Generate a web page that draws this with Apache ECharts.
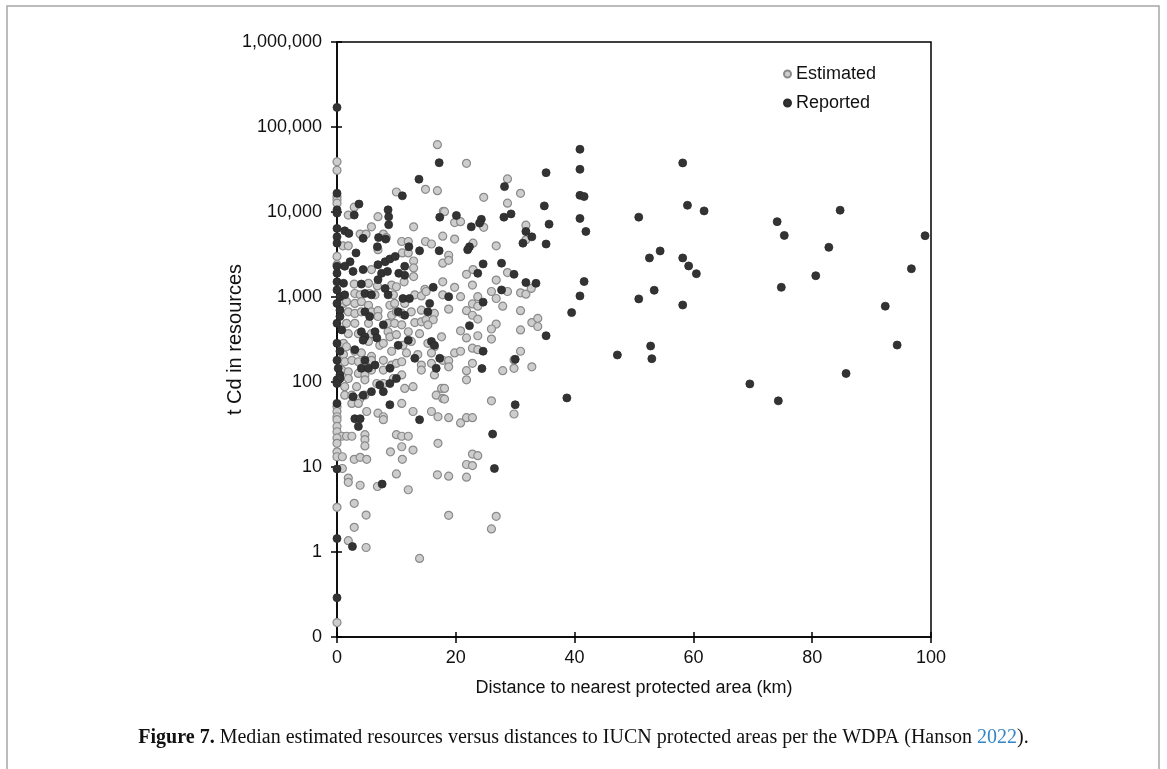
<!DOCTYPE html>
<html>
<head>
<meta charset="utf-8">
<script src="https://cdn.jsdelivr.net/npm/echarts@6/dist/echarts.min.js"></script>
<style>
  html, body { margin: 0; padding: 0; background: #fff; }
  #chart { width: 1167px; height: 769px; }
</style>
</head>
<body>
<div id="chart"></div>
<script>
// distance to nearest protected area (km), t Cd in resources
const estimated = [
  [16.9, 62000], [0, 39000], [0, 31000], [10.0, 17200], [14.9, 18500], [16.9, 17800], [0, 15200], [0, 13900],
  [0, 12700], [2.9, 11400], [1.9, 9200], [6.9, 8800], [17.9, 10200], [5.8, 6700], [12.9, 6700], [3.9, 5500],
  [4.9, 5500], [17.8, 5200], [7.8, 5500], [8.3, 5000], [1.0, 4000], [1.9, 4000], [6.9, 3600], [10.9, 4500],
  [12.0, 4500], [14.9, 4500], [15.9, 4200], [11.0, 3300], [12.0, 3300], [0, 3000], [17.8, 2500], [12.9, 2650],
  [0, 2400], [5.8, 2100], [12.9, 2200], [12.9, 1740],
  [2.9, 1420], [5.3, 1450], [6.8, 1350], [9.2, 1380], [10.0, 1320], [11.3, 1510], [14.8, 1230], [17.8, 1510],
  [3.0, 1100], [3.9, 1060], [5.5, 1100], [6.4, 1060], [9.5, 1060], [13.1, 1060], [14.2, 1030], [17.8, 1060],
  [1.1, 840], [1.6, 880], [3.0, 840], [4.1, 880], [5.3, 800], [8.9, 800], [9.7, 840], [11.4, 840], [15.0, 1160],
  [1.9, 670], [3.0, 640], [4.1, 670], [5.8, 670], [6.9, 690], [6.9, 590], [9.2, 610], [10.0, 670], [10.9, 640],
  [12.5, 670], [14.2, 700], [16.4, 640],
  [1.6, 490], [3.0, 490], [5.3, 490], [8.6, 490], [9.7, 490], [10.9, 470], [13.1, 500], [14.2, 510], [15.0, 540],
  [16.2, 540], [15.3, 470],
  [1.9, 370], [3.6, 370], [5.8, 370], [8.6, 390], [8.9, 340], [10.0, 360], [12.0, 390], [13.9, 370], [17.6, 340],
  [1.1, 285], [1.6, 260], [5.3, 300], [7.2, 270], [7.8, 285], [11.1, 270], [12.5, 300], [15.3, 285], [16.4, 260],
  [1.1, 210], [3.0, 230], [4.1, 220], [5.8, 200], [9.2, 230], [11.7, 220], [13.6, 210], [15.9, 220],
  [1.3, 173], [2.5, 180], [3.6, 173], [4.7, 166], [5.8, 180], [7.8, 180], [9.2, 158], [10.0, 166], [10.9, 173],
  [14.2, 158], [15.9, 166], [17.8, 180],
  [0.8, 138], [1.9, 132], [3.6, 126], [4.7, 121], [5.8, 138], [7.8, 138], [10.9, 121], [14.2, 138], [16.4, 121],
  [1.9, 110], [3.3, 88], [4.7, 106], [6.7, 96], [7.8, 96], [9.5, 110], [11.4, 84], [12.8, 88], [17.6, 84], [1.3, 88],
  [1.3, 70], [2.5, 70], [3.9, 64], [4.7, 70], [10.9, 56], [16.7, 70], [17.8, 64], [2.5, 56], [3.6, 56],
  [0, 51], [0, 45], [0, 39], [5.0, 45], [6.9, 43], [7.8, 39], [7.8, 36], [12.8, 45], [15.9, 45], [17.0, 39],
  [0, 36], [0, 30], [0, 26], [0.8, 23], [1.6, 23], [2.5, 23], [4.7, 24], [4.7, 21], [10.0, 24], [10.9, 23],
  [12.0, 23], [0, 22], [0, 19], [4.7, 17.7], [10.9, 17.3], [17.0, 19],
  [0, 15.1], [0, 13.2], [0.9, 13.2], [2.9, 12.3], [3.9, 13.0], [5.0, 12.3], [9.0, 15.1], [11.0, 12.3], [12.8, 15.8],
  [0.9, 9.6], [1.9, 7.4], [1.9, 6.6], [3.9, 6.1], [6.8, 5.9], [10.0, 8.3], [12.0, 5.4], [16.9, 8.1], [0, 3.35],
  [2.9, 3.74], [4.9, 2.72], [2.9, 1.95], [1.9, 1.36], [4.9, 1.13], [13.9, 0.84], [0, 0.148],
  [21.8, 37400], [28.7, 24500], [24.7, 14900], [30.9, 16600], [28.7, 12700], [31.8, 7000], [18.1, 10100],
  [19.8, 7500], [20.8, 7700], [24.7, 6600], [19.8, 4800], [22.9, 4300], [26.8, 4000], [31.8, 4700], [18.8, 3100],
  [18.8, 2700], [22.9, 2100], [21.8, 1850], [28.7, 1940],
  [19.8, 1300], [22.8, 1380], [26.8, 1580], [26.0, 1160], [28.7, 1160], [30.9, 1120], [31.8, 1080], [32.7, 1260],
  [20.8, 1010], [23.7, 1010], [26.8, 960], [27.9, 780], [18.8, 720], [21.8, 690], [22.8, 830], [23.7, 780],
  [22.8, 610], [23.7, 550], [30.9, 690], [32.8, 500], [33.8, 560], [33.8, 450], [26.8, 480], [26.0, 420],
  [30.9, 410], [20.8, 400], [21.8, 330], [23.7, 350], [26.0, 320], [19.8, 220], [20.8, 230], [22.8, 250],
  [23.7, 240], [30.9, 230], [18.8, 178], [18.8, 151], [22.8, 166], [21.8, 136], [21.8, 106], [27.9, 136],
  [29.8, 145], [32.8, 151], [29.8, 182], [18.1, 84], [18.1, 63], [26.0, 60], [29.8, 42], [18.8, 38], [20.8, 33],
  [21.8, 38], [22.8, 38],
  [22.8, 14.2], [23.7, 13.6], [21.8, 10.7], [22.8, 10.4], [18.8, 7.8], [21.8, 7.6], [18.8, 2.7], [26.8, 2.63],
  [26.0, 1.87]
];

const reported = [
  [0, 170000], [17.2, 38000], [13.8, 24300], [11.0, 15500], [0, 16600], [3.7, 12400], [2.9, 9200], [0, 10600],
  [0, 9700], [8.6, 10600], [8.7, 8800], [8.7, 7100], [17.3, 8700], [0, 6400], [1.3, 6000], [2.0, 5600], [0, 5100],
  [0, 4300], [4.4, 4900], [7.0, 5000], [8.2, 4800], [6.8, 3900], [12.1, 3900], [13.9, 3500], [17.2, 3500],
  [3.2, 3300], [2.2, 2600], [1.3, 2300], [0, 2300], [0, 1900], [2.7, 2000], [4.4, 2100], [6.9, 2400], [8.1, 2600],
  [8.9, 2800], [9.8, 3000], [7.5, 1900], [8.5, 2000], [11.4, 2300], [10.4, 1900], [11.4, 1800], [6.9, 1600],
  [0, 1510], [1.1, 1450], [4.1, 1420], [8.1, 1260], [8.6, 1060], [11.1, 960], [12.2, 960], [16.2, 1300],
  [0.5, 1010], [1.3, 1060], [0, 1210], [0, 840], [0.5, 700], [4.7, 1100], [5.8, 1060], [4.7, 670], [5.5, 590],
  [10.3, 670], [11.4, 610], [15.3, 670], [15.6, 840], [0.5, 590], [0, 490], [0.8, 410], [4.1, 390], [4.7, 340],
  [4.4, 310], [6.4, 390], [6.7, 330], [7.8, 470], [0, 285], [0.5, 230], [3.0, 240], [10.3, 270], [12.0, 310],
  [15.9, 300], [16.4, 270], [0, 180], [0.2, 145], [0.5, 121], [4.7, 180], [4.1, 145], [5.3, 145], [6.4, 158],
  [8.9, 145], [13.1, 190], [17.3, 190], [16.7, 145], [0, 106], [0.5, 110], [0, 96], [7.2, 92], [8.9, 96],
  [10.0, 110], [5.8, 77], [7.8, 77], [2.7, 67], [4.4, 70], [0, 56], [8.9, 54], [3.0, 37], [3.9, 37], [3.6, 30],
  [13.9, 36],
  [0, 9.5], [7.6, 6.3], [0, 1.44], [2.6, 1.16], [0, 0.29],
  [35.2, 29000], [28.2, 19900], [34.9, 11800], [35.7, 7200], [20.1, 9100], [22.6, 6700], [24.3, 8200],
  [24.0, 7400], [28.1, 8700], [29.3, 9500], [31.8, 5900], [32.8, 5100], [31.3, 4300], [35.2, 4200], [22.3, 3900],
  [22.0, 3600], [24.6, 2450], [27.7, 2500], [23.7, 1900], [29.8, 1850],
  [31.8, 1480], [33.5, 1450], [27.7, 1210], [18.8, 1010], [24.6, 870], [22.3, 460], [35.2, 350], [24.6, 230],
  [30.0, 185], [24.4, 144], [30.0, 54], [26.2, 24.4], [26.5, 9.6],
  [40.9, 54700], [40.9, 31800], [40.9, 15700], [41.6, 15200], [40.9, 8400], [41.9, 5900], [41.6, 1520],
  [40.9, 1030], [39.5, 655], [38.7, 65], [58.2, 37800], [59.0, 12000], [61.8, 10300], [50.8, 8700], [52.6, 2880],
  [54.4, 3480], [58.2, 2880], [59.2, 2320], [60.5, 1880], [53.4, 1200], [50.8, 950], [58.2, 805], [52.8, 265],
  [53.0, 188], [47.2, 208],
  [84.7, 10500], [74.1, 7700], [75.3, 5300], [82.8, 3840], [99.0, 5260], [80.6, 1780], [74.8, 1300],
  [96.7, 2150], [92.3, 780], [94.3, 272], [85.7, 126], [69.5, 95], [74.3, 60]
];

const yTickLabels = ['0', '1', '10', '100', '1,000', '10,000', '100,000', '1,000,000'];
const seriesNames = ['Estimated', 'Reported'];

const sans = "'Liberation Sans', Arial, sans-serif";
const serif = "'Liberation Serif', 'Times New Roman', serif";
const ink = '#111';

const chart = echarts.init(document.getElementById('chart'), null, { renderer: 'canvas' });

const xBase = { type: 'value', min: 0, max: 100, interval: 20, position: 'bottom', splitLine: { show: false } };
const yBase = { type: 'log', logBase: 10, min: 0.1, max: 1000000, position: 'left', splitLine: { show: false } };
const axisLine = { show: true, onZero: false, lineStyle: { color: '#000', width: 1.5 } };

chart.setOption({
  animation: false,
  backgroundColor: '#fff',
  title: {
    text: '{b|Figure 7.} Median estimated resources versus distances to IUCN protected areas per the WDPA (Hanson {l|2022}).',
    left: 'center',
    top: 728,
    padding: 0,
    textStyle: {
      fontFamily: serif, fontSize: 20, fontWeight: 'normal', color: '#111',
      rich: {
        b: { fontFamily: serif, fontSize: 20, fontWeight: 'bold', color: '#111' },
        l: { fontFamily: serif, fontSize: 20, color: '#3385c6' }
      }
    }
  },
  graphic: [{
    type: 'rect', silent: true, z: -1,
    shape: { x: 7, y: 6, width: 1152, height: 820 },
    style: { fill: 'none', stroke: '#a6a6a6', lineWidth: 1.5 }
  }],
  legend: {
    orient: 'vertical', left: 778, top: 60,
    itemWidth: 7, itemHeight: 7, itemGap: 11, icon: 'circle',
    textStyle: { fontFamily: sans, fontSize: 18, color: ink },
    data: seriesNames
  },
  grid: {
    left: 337, top: 42, width: 594, height: 595,
    show: true, borderColor: '#000', borderWidth: 1.5, backgroundColor: 'transparent'
  },
  xAxis: [
    Object.assign({}, xBase, {
      axisLine: axisLine,
      axisTick: { show: true, inside: false, length: 6, lineStyle: { color: '#000', width: 1.5 } },
      axisLabel: { margin: 12, fontFamily: sans, fontSize: 18, color: ink },
      name: 'Distance to nearest protected area (km)',
      nameLocation: 'middle', nameGap: 42, nameMoveOverlap: false,
      nameTextStyle: { fontFamily: sans, fontSize: 18, color: ink }
    }),
    Object.assign({}, xBase, {
      axisLine: { show: false },
      axisTick: { show: true, inside: true, length: 5, lineStyle: { color: '#000', width: 1.5 } },
      axisLabel: { show: false }
    })
  ],
  yAxis: [
    Object.assign({}, yBase, {
      axisLine: axisLine,
      axisTick: { show: true, inside: false, length: 6, lineStyle: { color: '#000', width: 1.5 } },
      axisLabel: {
        margin: 15, fontFamily: sans, fontSize: 18, color: ink,
        formatter: v => yTickLabels[Math.round(Math.log10(v)) + 1]
      },
      name: 't Cd in resources',
      nameLocation: 'middle', nameGap: 92, nameRotate: 90, nameMoveOverlap: false,
      nameTextStyle: { fontFamily: sans, fontSize: 20, color: ink }
    }),
    Object.assign({}, yBase, {
      axisLine: { show: false },
      axisTick: { show: true, inside: true, length: 5, lineStyle: { color: '#000', width: 1.5 } },
      axisLabel: { show: false }
    })
  ],
  series: [
    {
      name: seriesNames[0], type: 'scatter', data: estimated, symbolSize: 8, z: 2,
      itemStyle: { color: '#cdcdcd', borderColor: '#8a8a8a', borderWidth: 1.2, opacity: 1 }
    },
    {
      name: seriesNames[1], type: 'scatter', data: reported, symbolSize: 8, z: 3,
      itemStyle: { color: '#333', borderColor: '#2b2b2b', borderWidth: 0.8, opacity: 1 }
    }
  ]
});
</script>
</body>
</html>
